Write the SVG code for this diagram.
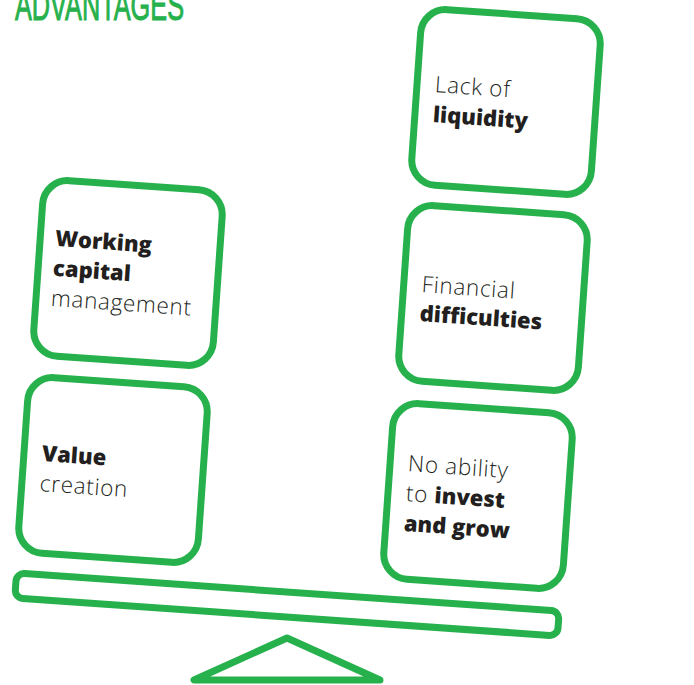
<svg xmlns="http://www.w3.org/2000/svg" width="694" height="685" viewBox="0 0 694 685">
<style>
.box{fill:#fff;stroke:#26b14c;stroke-width:7}
.lt{font-family:"Open Sans","Noto Sans",sans-serif;font-weight:300;font-size:22.5px;fill:#231f20;letter-spacing:0.7px}
.bd{font-family:"Open Sans","Noto Sans",sans-serif;font-weight:800;font-size:22px;fill:#231f20}
.sw{fill:none;stroke:#26b14c;stroke-width:7;stroke-linejoin:round}
</style>
<rect width="694" height="685" fill="#fff"/>
<text x="15" y="20" font-family="Liberation Sans, Arial, sans-serif" font-size="42" fill="#26b14c" stroke="#26b14c" stroke-width="1" textLength="169" lengthAdjust="spacingAndGlyphs">ADVANTAGES</text>
<g id="seesaw">
<rect class="sw" x="-272" y="-12.5" width="544" height="25" rx="8" transform="translate(287,604.5) rotate(4)"/>
<polygon class="sw" points="287,638 194,680 380,680"/>
</g>
<g id="working-capital" transform="translate(128,273) rotate(4)">
<rect class="box" x="-90" y="-88" width="180" height="176" rx="25"/>
<text x="-75" y="-22" class="bd">Working</text>
<text x="-75" y="8" class="bd">capital</text>
<text x="-75" y="38" class="lt">management</text>
</g>
<g id="value-creation" transform="translate(113,470) rotate(4)">
<rect class="box" x="-90" y="-88" width="180" height="176" rx="25"/>
<text x="-72" y="-4" class="bd">Value</text>
<text x="-72" y="26" class="lt">creation</text>
</g>
<g id="lack-of-liquidity" transform="translate(506,102) rotate(4)">
<rect class="box" x="-90" y="-88" width="180" height="176" rx="25"/>
<text x="-72" y="-5" class="lt">Lack of</text>
<text x="-72" y="25" class="bd">liquidity</text>
</g>
<g id="financial-difficulties" transform="translate(493,298) rotate(4)">
<rect class="box" x="-90" y="-88" width="180" height="176" rx="25"/>
<text x="-72" y="-1" class="lt">Financial</text>
<text x="-72" y="28" class="bd">difficulties</text>
</g>
<g id="no-ability" transform="translate(478,496) rotate(4)">
<rect class="box" x="-90" y="-88" width="180" height="176" rx="25"/>
<text x="-72" y="-20" class="lt">No ability</text>
<text x="-72" y="10"><tspan class="lt">to </tspan><tspan class="bd">invest</tspan></text>
<text x="-72" y="40" class="bd">and grow</text>
</g>
</svg>
